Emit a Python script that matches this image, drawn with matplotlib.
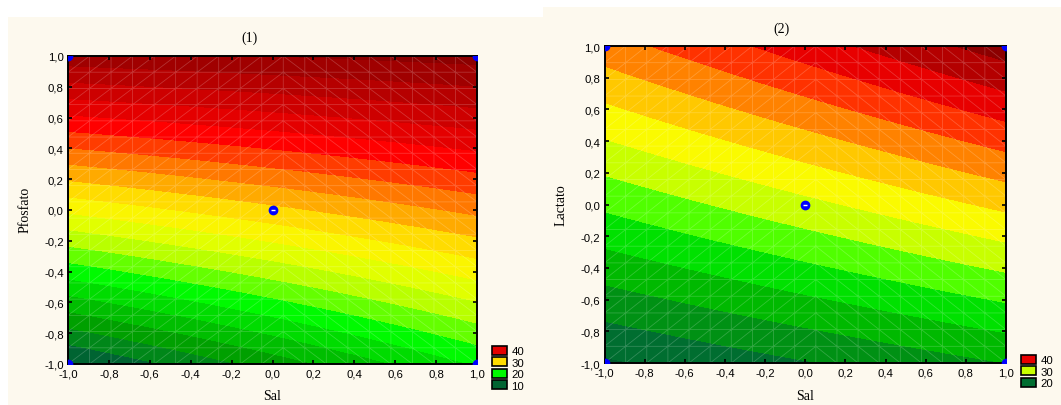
import numpy as np
import matplotlib
matplotlib.use("Agg")
import matplotlib.pyplot as plt
from matplotlib.patches import Rectangle, Patch
from matplotlib.tri import Triangulation

# ---------------- data ----------------
# design levels (coded) of the factors
sal_levels = [-1.0, 1.0]
factor_levels = [-1.0, 1.0]
# response at the corner design points, rows = factor (-1, +1), cols = Sal (-1, +1)
resp1 = [[9.6, 20.2],
         [47.2, 48.8]]
resp2 = [[19.7, 24.0],
         [37.1, 45.0]]
# design points (shown as blue dots)
design_x = [-1, -1, 1, 1, 0]
design_y = [-1, 1, 1, -1, 0]

levels1 = list(range(10, 52, 2))
levels2 = list(range(18, 48, 2))
legend1 = [40, 30, 20, 10]
legend2 = [40, 30, 20]
ticks = [-1.0, -0.8, -0.6, -0.4, -0.2, 0.0, 0.2, 0.4, 0.6, 0.8, 1.0]
titles = ["(1)", "(2)"]
ylabels = ["Pfosfato", "Lactato"]
xlabel = "Sal"

# ---------------- styles ----------------
def rgb(*c):
    return tuple(v / 255 for v in c)

colors1 = [rgb(0, 100, 50), rgb(0, 135, 25), rgb(0, 160, 0), rgb(0, 190, 0), rgb(0, 220, 0),
           rgb(0, 250, 0), rgb(100, 255, 0), rgb(185, 255, 0), rgb(225, 255, 0), rgb(250, 245, 0),
           rgb(255, 220, 0), rgb(255, 170, 0), rgb(255, 120, 0), rgb(255, 60, 0), rgb(255, 0, 0),
           rgb(228, 0, 0), rgb(205, 0, 0), rgb(182, 0, 0), rgb(160, 0, 0), rgb(140, 0, 0)]
colors2 = [rgb(0, 90, 45), rgb(0, 110, 48), rgb(0, 145, 20), rgb(0, 185, 0), rgb(0, 225, 0),
           rgb(80, 255, 0), rgb(200, 255, 0), rgb(250, 250, 0), rgb(255, 200, 0), rgb(255, 130, 0),
           rgb(255, 50, 0), rgb(232, 0, 0), rgb(180, 0, 0), rgb(140, 0, 0)]

CREAM = "#fdf9ee"
W, H = 1061, 406
fig = plt.figure(figsize=(W / 100, H / 100), dpi=100)
fig.patch.set_facecolor("white")

def fx(px):
    return px / W

def fy(py):
    return 1 - py / H

# cream panels
fig.patches.append(Rectangle((fx(8), 0), fx(543) - fx(8), fy(18), transform=fig.transFigure,
                             facecolor=CREAM, edgecolor="none", zorder=-10))
fig.patches.append(Rectangle((fx(543), 0), 1 - fx(543), fy(8), transform=fig.transFigure,
                             facecolor=CREAM, edgecolor="none", zorder=-10))

SANS = "Liberation Sans"
SERIF = "Liberation Serif"
TICKFS = 8.2
LABFS = 10


def surface(resp, n=201):
    x = np.linspace(sal_levels[0], sal_levels[1], n)
    y = np.linspace(factor_levels[0], factor_levels[1], n)
    X, Y = np.meshgrid(x, y)
    tx = (X - sal_levels[0]) / (sal_levels[1] - sal_levels[0])
    ty = (Y - factor_levels[0]) / (factor_levels[1] - factor_levels[0])
    r = np.asarray(resp, dtype=float)
    Z = (1 - ty) * ((1 - tx) * r[0, 0] + tx * r[0, 1]) + ty * ((1 - tx) * r[1, 0] + tx * r[1, 1])
    return X, Y, Z


def mesh(ax, n=20):
    g = np.linspace(-1, 1, n)
    GX, GY = np.meshgrid(g, g)
    px, py = GX.ravel(), GY.ravel()
    tris = []
    for j in range(n - 1):
        for i in range(n - 1):
            a = j * n + i
            b = a + 1
            c = a + n
            d = c + 1
            if g[i] < 0:
                tris += [[a, b, d], [a, d, c]]
            else:
                tris += [[a, b, c], [b, d, c]]
    tri = Triangulation(px, py, np.array(tris))
    ax.triplot(tri, color="white", alpha=0.2, lw=0.6)


def draw(rect, resp, levels, colors, ylab):
    ax = fig.add_axes(rect)
    X, Y, Z = surface(resp)
    ax.contourf(X, Y, Z, levels=levels, colors=[colors[0]] + colors, extend="min")
    mesh(ax)
    ax.plot(design_x, design_y, "o", color="#0000ff", ms=6, mec="#0000ff", clip_on=True, zorder=5)
    ax.plot([0], [0], marker="_", color="white", ms=2.5, mew=1, zorder=6)
    ax.set_xlim(-1, 1)
    ax.set_ylim(-1, 1)
    ax.set_xticks(ticks)
    ax.set_yticks(ticks)
    lab = [f"{t:.1f}".replace(".", ",").replace("-0,0", "0,0") for t in ticks]
    ax.set_xticklabels(lab, fontfamily=SANS, fontsize=TICKFS)
    ax.set_yticklabels(lab, fontfamily=SANS, fontsize=TICKFS)
    ax.tick_params(direction="in", length=3, width=1.2, top=True, right=True, pad=3)
    for s in ax.spines.values():
        s.set_linewidth(1.4)
    return ax


ax1 = draw([fx(68), fy(365), fx(477) - fx(68), fy(57) - fy(365)], resp1, levels1, colors1, ylabels[0])
ax2 = draw([fx(604.5), fy(364), fx(1006) - fx(604.5), fy(47) - fy(364)], resp2, levels2, colors2, ylabels[1])

# titles and labels
fig.text(fx(249), fy(38), titles[0], fontfamily=SERIF, fontsize=LABFS, ha="center", va="center")
fig.text(fx(782), fy(29), titles[1], fontfamily=SERIF, fontsize=LABFS, ha="center", va="center")
fig.text(fx(272), fy(397), xlabel, fontfamily=SERIF, fontsize=LABFS, ha="center", va="center")
fig.text(fx(805), fy(397), xlabel, fontfamily=SERIF, fontsize=LABFS, ha="center", va="center")
fig.text(fx(25), fy(210), ylabels[0], fontfamily=SERIF, fontsize=LABFS, ha="center", va="center", rotation=90)
fig.text(fx(561), fy(205), ylabels[1], fontfamily=SERIF, fontsize=LABFS, ha="center", va="center", rotation=90)


def legend(values, levels, colors, x0, y0):
    handles = []
    for v in values:
        k = levels.index(v)
        handles.append(Patch(facecolor=colors[k], edgecolor="black", lw=1.2, label=str(v)))
    fig.legend(handles=handles, loc="upper left", bbox_to_anchor=(fx(x0), fy(y0)),
               bbox_transform=fig.transFigure, frameon=False, prop={"family": SANS, "size": TICKFS},
               handlelength=1.35, handleheight=0.8, labelspacing=0.1, handletextpad=0.35,
               borderpad=0, borderaxespad=0)


legend(legend1, levels1, colors1, 492, 347)
legend(legend2, levels2, colors2, 1021, 356)

fig.savefig("out.png", dpi=100, facecolor="white")
